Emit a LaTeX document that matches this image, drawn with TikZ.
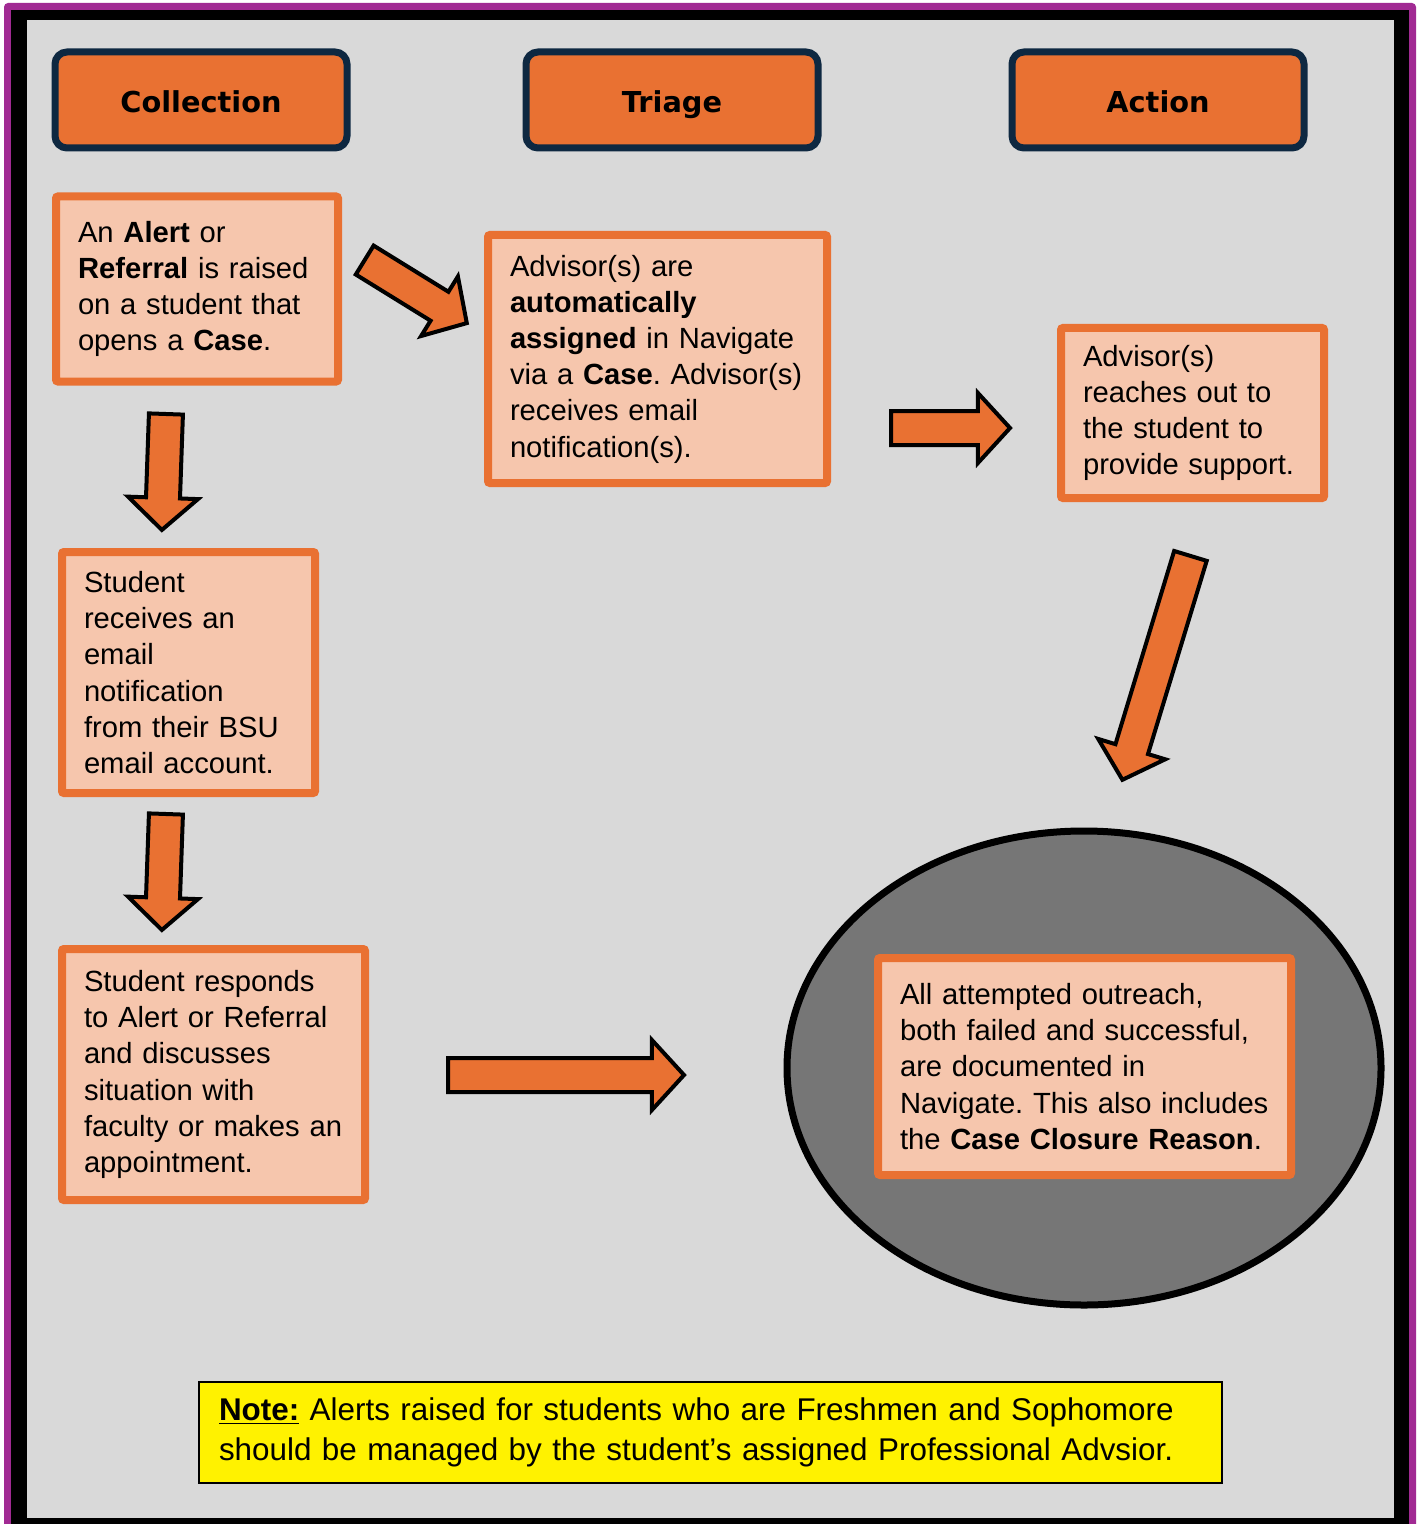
\documentclass[tikz,border=0pt]{standalone}
\usepackage{fontspec}
\setmainfont{Liberation Sans}
\newfontfamily\headfont{DejaVu Sans}
\usepackage{tikz}
\usetikzlibrary{shapes.geometric, shapes.arrows}

\definecolor{framepurple}{HTML}{A12A93}
\definecolor{panelgray}{HTML}{D9D9D9}
\definecolor{caseorange}{HTML}{E97132}
\definecolor{casepeach}{HTML}{F6C6AD}
\definecolor{headnavy}{HTML}{0E2841}
\definecolor{closegray}{HTML}{767676}

\hyphenpenalty=10000
\exhyphenpenalty=10000

\begin{document}
\frenchspacing
\begin{tikzpicture}[
    x=0.5pt, y=-0.5pt,
    phase/.style={rectangle, rounded corners=6pt, draw=headnavy, line width=3.5pt,
        fill=caseorange, minimum width=146pt, minimum height=48pt,
        text height=13pt, text depth=0pt,
        font=\headfont\bfseries\fontsize{14.4}{17}\selectfont},
    infobox/.style={rectangle, rounded corners=1pt, draw=caseorange, line width=4pt,
        fill=casepeach, align=left, inner xsep=11pt, inner ysep=0pt,
        font=\fontsize{14.6}{18.1}\selectfont},
    blockarrow/.style={single arrow, draw=black, line width=2pt, fill=caseorange,
        inner xsep=0pt, inner ysep=7.5pt, single arrow head extend=9pt,
        single arrow tip angle=95, anchor=tail}
]
\useasboundingbox (0,0) rectangle (1417,1524);
\fill[white] (0,0) rectangle (1417,1524);

% frame
\fill[framepurple, rounded corners=2pt] (4,3) rectangle (1416,1540);
\fill[black] (11,10) rectangle (1409,1540);
\fill[panelgray] (27,20) rectangle (1394,1518);

% column headings
\node[phase] (collection) at (201,100) {Collection};
\node[phase] (triage) at (672,100) {Triage};
\node[phase] (action) at (1158,100) {Action};

% collection column
\node[infobox, text width=119pt, minimum height=92.5pt] (raised) at (197,289)
    {An \textbf{Alert} or\\ \textbf{Referral} is raised\\ on a student that\\ opens a \textbf{Case}.};
\node[infobox, text width=104.5pt, minimum height=120.5pt] (notified) at (188.5,672.5)
    {Student\\ receives an\\ email\\ notification\\ from their BSU\\ email account.};
\node[infobox, text width=129.5pt, minimum height=125.5pt] (responds) at (213.5,1074.5)
    {Student responds\\ to Alert or Referral\\ and discusses\\ situation with\\ faculty or makes an\\ appointment.};

% triage and action
\node[infobox, text width=147.5pt, minimum height=124pt] (assigned) at (657.5,359)
    {Advisor(s) are\\ \textbf{automatically}\\ \textbf{assigned} in Navigate\\ via a \textbf{Case}. Advisor(s)\\ receives email\\ notification(s).};
\node[infobox, text width=109.5pt, minimum height=85pt] (outreach) at (1192.5,413)
    {Advisor(s)\\ reaches out to\\ the student to\\ provide support.};

% closure
\node[ellipse, draw=black, line width=3.5pt, fill=closegray,
    minimum width=297pt, minimum height=237pt] (closure) at (1084,1068) {};
\node[infobox, text width=184.5pt, minimum height=108.5pt] (documented) at (1084.5,1066.5)
    {All attempted outreach,\\ both failed and successful,\\ are documented in\\ Navigate. This also includes\\ the \textbf{Case Closure Reason}.};

% block arrows
\node[blockarrow, minimum height=60pt, rotate=-31.7] (toassigned) at (363,259) {};
\node[blockarrow, minimum height=58pt, rotate=-92] (tonotified) at (166,412) {};
\node[blockarrow, minimum height=58pt, rotate=-92] (toresponds) at (166,812) {};
\node[blockarrow, minimum height=59.5pt] (tooutreach) at (889,428) {};
\node[blockarrow, minimum height=118pt] (toclosure) at (446,1075) {};
\node[blockarrow, minimum height=117pt, rotate=-106.9] (fromoutreach) at (1191,554) {};

% note
\node[rectangle, draw=black, line width=1pt, fill=yellow, align=left,
    text width=491.5pt, inner xsep=10pt, minimum height=50.5pt,
    font=\fontsize{15.7}{20}\selectfont] (note) at (710.5,1432.5)
    {\underline{\textbf{Note:}} Alerts raised for students who are Freshmen and Sophomore\\ should be managed by the student’s assigned Professional Advsior.};
\end{tikzpicture}
\end{document}
